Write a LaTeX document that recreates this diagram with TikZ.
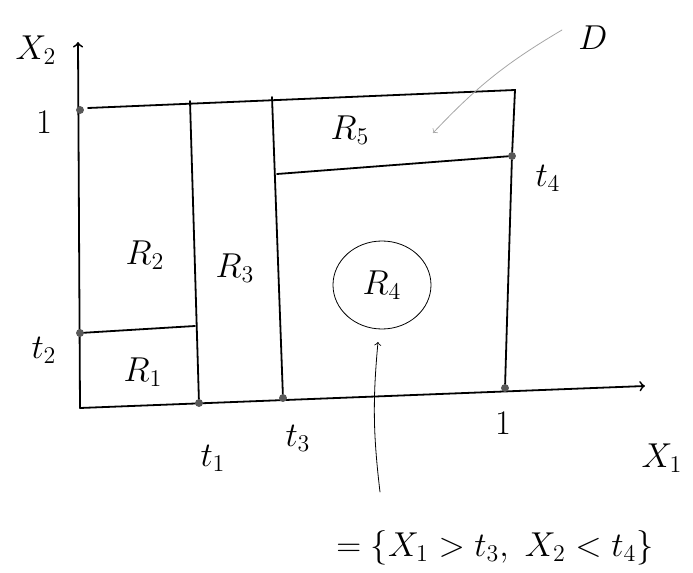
\documentclass[tikz,border=0pt]{standalone}
\usepackage{amsmath,amssymb}
\usepackage{tikz}

\begin{document}
\begin{tikzpicture}[x=0.5pt, y=-0.5pt, line cap=round, font=\LARGE,
  split/.style={line width=0.9pt},
  dot/.style={circle, fill=gray!70!black, inner sep=1.4pt}]
  \useasboundingbox (0,0) rectangle (693,573);
  % axes
  \coordinate (O) at (80,408);
  \coordinate (Xend) at (645,386);
  \coordinate (Yend) at (78,42);
  \draw[->, split] (O) -- (Xend);
  \draw[->, split] (O) -- (Yend);
  \node (x1) at (662,458) {$X_1$};
  \node (x2) at (36,50) {$X_2$};
  % ticks on the axes
  \node[dot] (a1) at (199,403) {};
  \node[dot] (a3) at (283,398) {};
  \node[dot] (a5) at (505,388) {};
  \node[dot] (b1) at (80,110) {};
  \node[dot] (b2) at (80,333) {};
  \node (lt1) at (213,458) {$t_1$};
  \node (lt3) at (298,438) {$t_3$};
  \node (lone) at (503,423) {$1$};
  \node (ltwo) at (44,122) {$1$};
  \node (lt2) at (44,350) {$t_2$};
  % unit square and splits
  \coordinate (TL) at (88,108);
  \coordinate (TR) at (515,90);
  \node[dot] (c4) at (512,156) {};
  \draw[split] (TL) -- (TR) -- (c4) -- (a5);
  \draw[split] (190,101) -- (a1);
  \draw[split] (272,97) -- (a3);
  \draw[split] (b2) -- (195,326);
  \draw[split] (277,174) -- (c4);
  \node (lt4) at (548,178) {$t_4$};
  % regions
  \node (r1) at (143,372) {$R_1$};
  \node (r2) at (145,255) {$R_2$};
  \node (r3) at (235,268) {$R_3$};
  \node (r5) at (350,130) {$R_5$};
  \node (r4) at (382,285) {$R_4$};
  \draw[thin] (r4) ellipse (24.5pt and 22pt);
  % pointers
  \node (d) at (593,38) {$D$};
  \coordinate (dtip) at (433,133);
  \draw[->, gray!70, thin] (562,30) to[bend right=8] (dtip);
  \node (set) at (495,548) {$=\{X_1>t_3,\ X_2<t_4\}$};
  \coordinate (ptip) at (378,342);
  \draw[->, thin] (380,492) to[bend left=6] (ptip);
\end{tikzpicture}
\end{document}
